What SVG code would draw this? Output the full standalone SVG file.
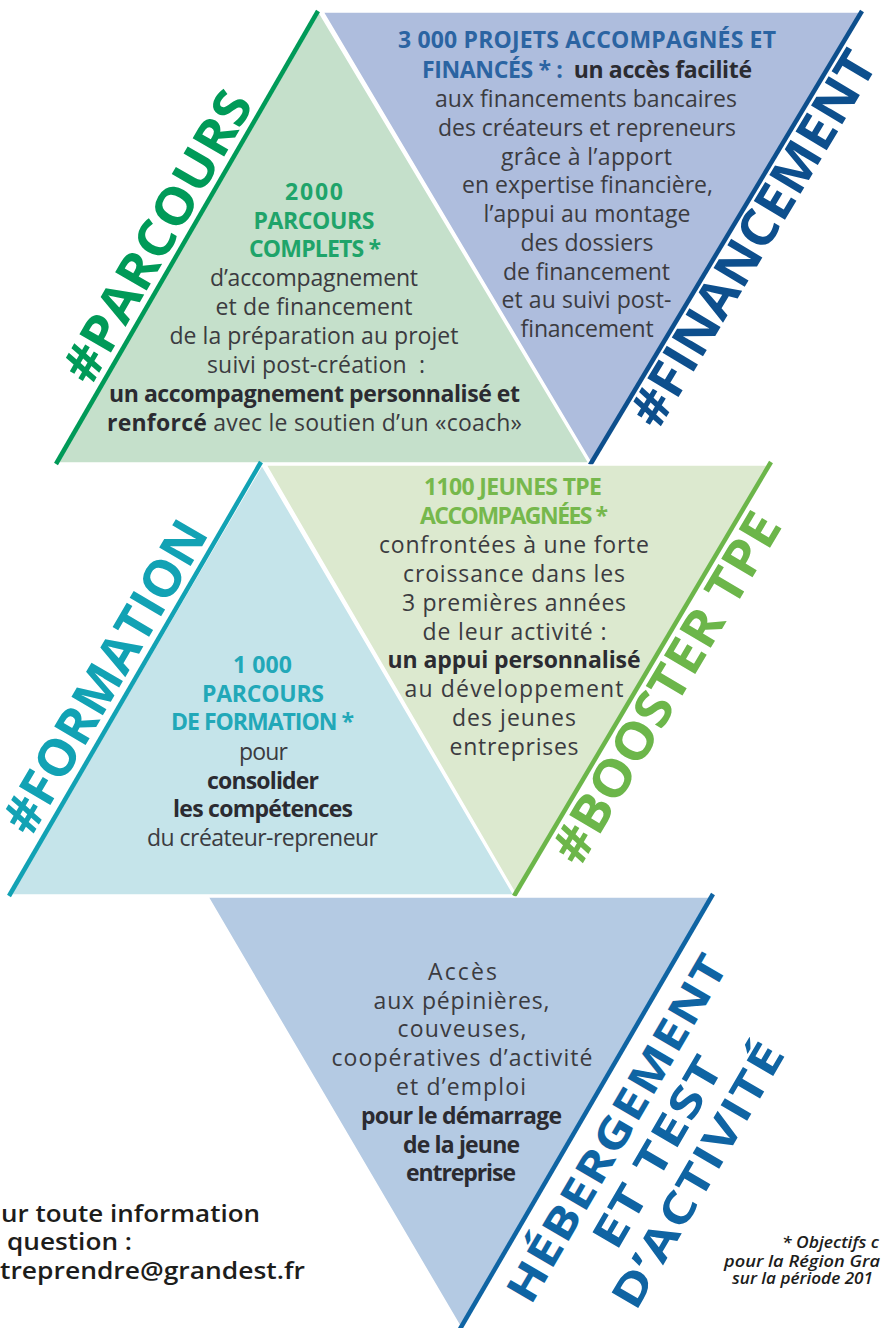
<svg xmlns="http://www.w3.org/2000/svg" width="881" height="1328" viewBox="0 0 881 1328">
<style>
text{font-family:"Open Sans","Liberation Sans",sans-serif;}
.t{font-size:23px;fill:#3b3b40;text-anchor:middle;}
.b{font-weight:700;fill:#2b2b31;}
.h{font-weight:700;}
.lbl{font-size:51px;font-weight:700;}
.heb{font-size:43px;font-weight:700;fill:#0f64a3;text-anchor:middle;letter-spacing:1px;}
.tri{stroke:#ffffff;stroke-width:1.5;}
.edge{stroke-width:4.5;stroke-linecap:butt;fill:none;}
.contact{font-size:24px;font-weight:600;fill:#1d1d1b;}
.note{font-size:16px;font-style:italic;font-weight:600;fill:#1d1d1b;}
</style>

<g id="parcours">
<polygon class="tri" points="319,12 57,463 589,463" fill="#c5e0cb"/>
<line class="edge" x1="318" y1="11" x2="56" y2="464" stroke="#009a58"/>
<text class="lbl" x="91" y="387" transform="rotate(-60 91 387)" textLength="327" lengthAdjust="spacingAndGlyphs" fill="#009a58">#PARCOURS</text>
<g class="t">
<text class="h" x="314" y="200" fill="#1fa46a" textLength="58">2000</text>
<text class="h" x="314" y="228.5" fill="#1fa46a" textLength="121">PARCOURS</text>
<text class="h" x="315" y="257" fill="#1fa46a" textLength="132">COMPLETS *</text>
<text x="314" y="286" textLength="208">d’accompagnement</text>
<text x="314" y="315" textLength="197">et de financement</text>
<text x="314" y="344" textLength="289">de la préparation au projet</text>
<text x="316" y="373" textLength="218">suivi post-création&#160; :</text>
<text class="b" x="314.5" y="401.5" textLength="411">un accompagnement personnalisé et</text>
<text x="314.5" y="430.5" textLength="415"><tspan class="b">renforcé</tspan> avec le soutien d’un «coach»</text>
</g>
</g>

<g id="financement">
<polygon class="tri" points="323,12 861,12 591,463" fill="#aebddd"/>
<line class="edge" x1="862" y1="11" x2="590" y2="465" stroke="#0d4f8d"/>
<text class="lbl" x="658" y="431" transform="rotate(-59 658 431)" textLength="428" lengthAdjust="spacingAndGlyphs" fill="#0d4f8d">#FINANCEMENT</text>
<g class="t">
<text class="h" x="587" y="48" fill="#2b64a2" textLength="378">3 000 PROJETS ACCOMPAGNÉS ET</text>
<text x="587" y="77.5" textLength="330"><tspan class="h" fill="#2b64a2">FINANCÉS * :</tspan>&#160; <tspan class="b">un accès facilité</tspan></text>
<text x="586" y="106.5" textLength="302">aux financements bancaires</text>
<text x="587" y="135.5" textLength="298">des créateurs et repreneurs</text>
<text x="586.5" y="164.5" textLength="171">grâce à l’apport</text>
<text x="587.5" y="193" textLength="251">en expertise financière,</text>
<text x="587" y="222" textLength="207">l’appui au montage</text>
<text x="587" y="251" textLength="133">des dossiers</text>
<text x="586.5" y="279.5" textLength="167">de financement</text>
<text x="586.5" y="308" textLength="170">et au suivi post-</text>
<text x="587" y="336.5" textLength="133">financement</text>
</g>
</g>

<g id="formation">
<polygon class="tri" points="262,465 10,895 514,895" fill="#c5e4ea"/>
<line class="edge" x1="261" y1="462" x2="9" y2="896" stroke="#12a2b4"/>
<text class="lbl" x="31" y="838" transform="rotate(-59.6 31 838)" textLength="353" lengthAdjust="spacingAndGlyphs" fill="#12a2b4">#FORMATION</text>
<g class="t">
<text class="h" x="262.5" y="673" fill="#22a8b8" textLength="59">1 000</text>
<text class="h" x="263" y="701.5" fill="#22a8b8" textLength="122">PARCOURS</text>
<text class="h" x="262.5" y="730" fill="#22a8b8" textLength="183">DE FORMATION *</text>
<text x="263.5" y="759.5" textLength="49">pour</text>
<text class="b" x="263" y="788.5" textLength="112">consolider</text>
<text class="b" x="263" y="817" textLength="180">les compétences</text>
<text x="262.5" y="846" textLength="231">du créateur-repreneur</text>
</g>
</g>

<g id="booster">
<polygon class="tri" points="266,465 770,465 516,895" fill="#dce9cf"/>
<line class="edge" x1="771" y1="462" x2="514" y2="896" stroke="#6cb64a"/>
<text class="lbl" x="580" y="868" transform="rotate(-59.3 580 868)" textLength="398" lengthAdjust="spacingAndGlyphs" fill="#6cb64a">#BOOSTER TPE</text>
<g class="t">
<text class="h" x="513" y="495" fill="#76b84c" textLength="178">1100 JEUNES TPE</text>
<text class="h" x="514" y="523.5" fill="#76b84c" textLength="188">ACCOMPAGNÉES *</text>
<text x="514" y="553" textLength="270">confrontées à une forte</text>
<text x="514" y="582" textLength="222">croissance dans les</text>
<text x="514" y="610.5" textLength="224">3 premières années</text>
<text x="514.5" y="639.5" textLength="184">de leur activité :</text>
<text class="b" x="514" y="668" textLength="253">un appui personnalisé</text>
<text x="514" y="697" textLength="219">au développement</text>
<text x="514" y="726" textLength="124">des jeunes</text>
<text x="514" y="754.5" textLength="129">entreprises</text>
</g>
</g>

<g id="hebergement">
<polygon class="tri" points="208,897 712,897 461,1328" fill="#b4cae3"/>
<line class="edge" x1="713" y1="894" x2="460" y2="1329" stroke="#0f64a3"/>
<text class="heb" x="630" y="1135.5" transform="rotate(-59.8 630 1135.5)" textLength="395" lengthAdjust="spacingAndGlyphs">HÉBERGEMENT</text>
<text class="heb" x="670.6" y="1159.1" transform="rotate(-59.8 670.6 1159.1)" textLength="215" lengthAdjust="spacingAndGlyphs">ET TEST</text>
<text class="heb" x="711.2" y="1182.7" transform="rotate(-59.8 711.2 1182.7)" textLength="300" lengthAdjust="spacingAndGlyphs">D’ACTIVITÉ</text>
<g class="t">
<text x="462.5" y="980" textLength="69">Accès</text>
<text x="461.5" y="1008.5" textLength="176">aux pépinières,</text>
<text x="462" y="1037" textLength="129">couveuses,</text>
<text x="462" y="1066" textLength="261">coopératives d’activité</text>
<text x="461" y="1095" textLength="130">et d’emploi</text>
<text class="b" x="461.5" y="1124" textLength="201">pour le démarrage</text>
<text class="b" x="461.5" y="1152.5" textLength="117">de la jeune</text>
<text class="b" x="461" y="1181" textLength="110">entreprise</text>
</g>
</g>

<g id="contact">
<text class="contact" x="1" y="1222" textLength="259" lengthAdjust="spacingAndGlyphs">ur toute information</text>
<text class="contact" x="7" y="1250" textLength="125" lengthAdjust="spacingAndGlyphs">question :</text>
<text class="contact" x="0" y="1279" textLength="305" lengthAdjust="spacingAndGlyphs">treprendre@grandest.fr</text>
</g>

<g id="footnote">
<text class="note" x="782" y="1248" textLength="97" lengthAdjust="spacingAndGlyphs">* Objectifs c</text>
<text class="note" x="724" y="1267" textLength="156" lengthAdjust="spacingAndGlyphs">pour la Région Gra</text>
<text class="note" x="732" y="1284" textLength="141" lengthAdjust="spacingAndGlyphs">sur la période 201</text>
</g>
</svg>
